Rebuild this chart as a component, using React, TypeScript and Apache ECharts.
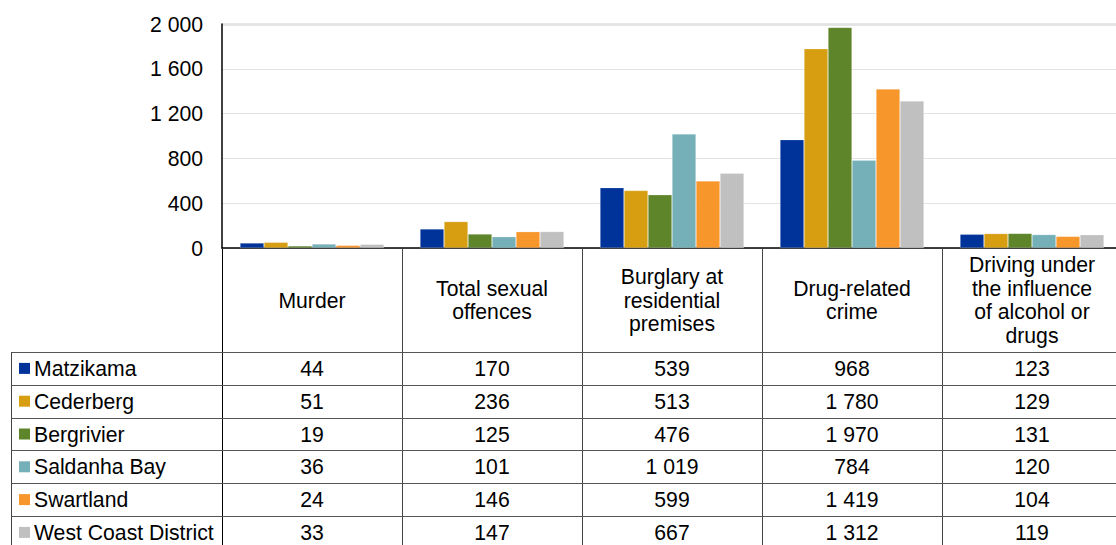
import React, { useEffect, useRef } from "react";
import * as echarts from "echarts";

const categories = [
  "Murder",
  "Total sexual\noffences",
  "Burglary at\nresidential\npremises",
  "Drug-related\ncrime",
  "Driving under\nthe influence\nof alcohol or\ndrugs",
];
const seriesNames = ["Matzikama", "Cederberg", "Bergrivier", "Saldanha Bay", "Swartland", "West Coast District"];
const seriesColors = ["#003399", "#D69E10", "#5E8529", "#75AFB8", "#F7962B", "#C0C0C0"];
const matzikama = [44, 170, 539, 968, 123];
const cederberg = [51, 236, 513, 1780, 129];
const bergrivier = [19, 125, 476, 1970, 131];
const saldanhaBay = [36, 101, 1019, 784, 120];
const swartland = [24, 146, 599, 1419, 104];
const westCoastDistrict = [33, 147, 667, 1312, 119];
const seriesValues = [matzikama, cederberg, bergrivier, saldanhaBay, swartland, westCoastDistrict];
const yMin = 0;
const yMax = 2000;
const yInterval = 400;

const fmt = (v: number) => String(v).replace(/\B(?=(\d{3})+(?!\d))/g, " ");

const FONT = "'Liberation Sans', Arial, sans-serif";
const FS = 21.2;
const GL = 222;
const GT = 24;
const GW = 900;
const GH = 224;
const CAT_W = GW / categories.length;
const HEADER_BOTTOM = 352;
const ROW_H = 32.8;
const TABLE_LEFT = 11.5;
const BOTTOM = 560;

export default function App() {
  const ref = useRef<HTMLDivElement>(null);
  useEffect(() => {
    if (!ref.current) return;
    const chart = echarts.init(ref.current, undefined, { renderer: "svg" });
    const graphic: any[] = [];
    graphic.push({
      type: "line",
      shape: { x1: GL, y1: GT + 0.5, x2: GL + GW, y2: GT + 0.5 },
      style: { stroke: "#9a9a9a", lineWidth: 1.5 },
      silent: true,
    });
    for (let i = 0; i <= categories.length; i++) {
      const x = Math.round(GL + i * CAT_W) + 0.5;
      graphic.push({
        type: "line",
        shape: { x1: x, y1: GT + GH, x2: x, y2: BOTTOM },
        style: { stroke: i === 0 ? "#000" : "#444", lineWidth: 1 },
        silent: true,
      });
    }
    graphic.push({
      type: "line",
      shape: { x1: TABLE_LEFT, y1: HEADER_BOTTOM, x2: TABLE_LEFT, y2: BOTTOM },
      style: { stroke: "#444", lineWidth: 1 },
      silent: true,
    });
    for (let r = 0; r <= seriesNames.length; r++) {
      const y = Math.round(HEADER_BOTTOM + r * ROW_H) + 0.5;
      graphic.push({
        type: "line",
        shape: { x1: TABLE_LEFT, y1: y, x2: GL + GW, y2: y },
        style: { stroke: "#555", lineWidth: 1 },
        silent: true,
      });
    }
    categories.forEach((c, i) => {
      graphic.push({
        type: "text",
        x: GL + i * CAT_W + CAT_W / 2,
        y: (GT + GH + HEADER_BOTTOM) / 2,
        style: {
          text: c,
          fill: "#000",
          fontSize: FS,
          fontFamily: FONT,
          lineHeight: 23.7,
          align: "center",
          verticalAlign: "middle",
        },
        silent: true,
      });
    });
    seriesNames.forEach((name, r) => {
      const cy = HEADER_BOTTOM + r * ROW_H + ROW_H / 2;
      graphic.push({
        type: "rect",
        shape: { x: 19, y: cy - 5.5, width: 11, height: 11 },
        style: { fill: seriesColors[r] },
        silent: true,
      });
      graphic.push({
        type: "text",
        x: 34,
        y: cy,
        style: {
          text: name,
          fill: "#000",
          fontSize: FS,
          fontFamily: FONT,
          align: "left",
          verticalAlign: "middle",
        },
        silent: true,
      });
      seriesValues[r].forEach((v, i) => {
        graphic.push({
          type: "text",
          x: GL + i * CAT_W + CAT_W / 2,
          y: cy,
          style: {
            text: fmt(v),
            fill: "#000",
            fontSize: FS,
            fontFamily: FONT,
            align: "center",
            verticalAlign: "middle",
          },
          silent: true,
        });
      });
    });

    chart.setOption({
      animation: false,
      textStyle: { fontFamily: FONT },
      grid: { left: GL, top: GT, width: GW, height: GH, containLabel: false },
      xAxis: {
        type: "category",
        data: categories,
        axisLabel: { show: false },
        axisTick: { show: false },
        axisLine: { show: true, lineStyle: { color: "#000", width: 1.5 } },
        splitLine: { show: false },
      },
      yAxis: {
        type: "value",
        min: yMin,
        max: yMax,
        interval: yInterval,
        axisLine: { show: true, lineStyle: { color: "#000", width: 1.5 } },
        axisTick: { show: false },
        axisLabel: {
          color: "#000",
          fontSize: FS,
          fontFamily: FONT,
          margin: 19,
          formatter: (v: number) => fmt(v),
        },
        splitLine: { show: true, lineStyle: { color: "#e3e3e3", width: 1 } },
      },
      series: seriesNames.map((name, i) => ({
        type: "bar",
        name,
        data: seriesValues[i],
        barGap: "0%",
        barCategoryGap: "20%",
        itemStyle: { color: seriesColors[i], borderColor: "rgba(255,255,255,0.35)", borderWidth: 0.6 },
      })),
      graphic,
    });
    return () => chart.dispose();
  }, []);
  return (
    <div style={{ position: "fixed", left: 0, top: 0, width: 1116, height: 545, overflow: "hidden", background: "#fff" }}>
      <div ref={ref} style={{ width: 1130, height: 545 }} />
    </div>
  );
}
